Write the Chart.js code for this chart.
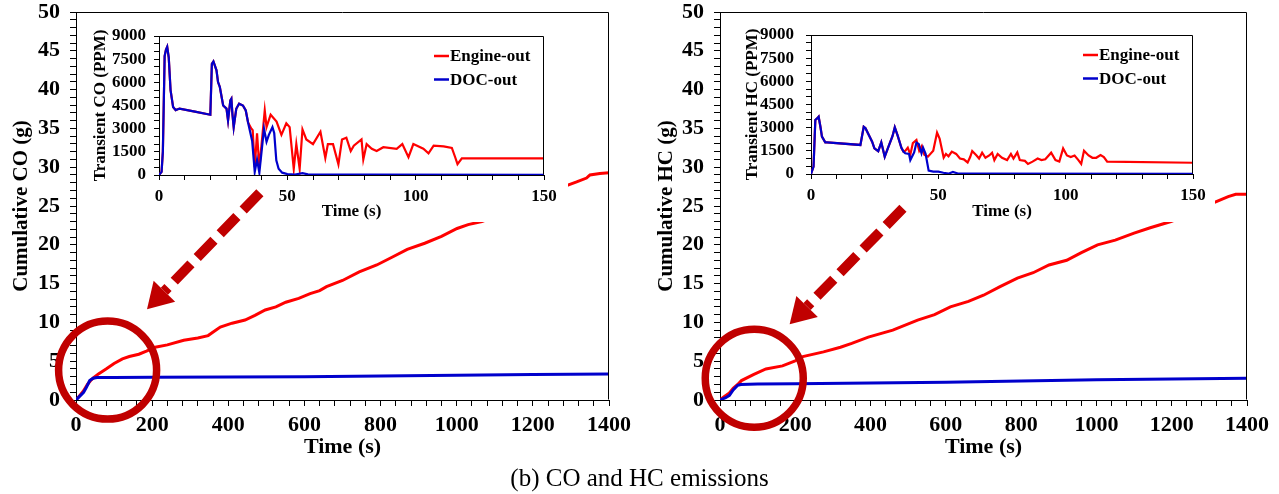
<!DOCTYPE html>
<html>
<head>
<meta charset="utf-8">
<script src="https://cdn.jsdelivr.net/npm/chart.js@4.4.0/dist/chart.umd.min.js"></script>
<style>
    body { margin: 0; background: #fff; width: 1279px; height: 494px; position: relative; overflow: hidden; }
    canvas { position: absolute; background: #fff; }
    #coMain { left: 0; top: 0; }
    #hcMain { left: 640px; top: 0; }
    #coInset { left: 86px; top: 24px; }
    #hcInset { left: 730px; top: 24px; }
    #marks { left: 0; top: 0; background: transparent; pointer-events: none; }
    #caption {
        position: absolute; left: 0; width: 1279px; top: 463px;
        text-align: center; font: 25px 'Liberation Serif', serif; line-height: 29px; color: #000;
    }
</style>
</head>
<body>
<canvas id="coMain" width="640" height="470"></canvas>
<canvas id="hcMain" width="639" height="470"></canvas>
<canvas id="coInset" width="482" height="198"></canvas>
<canvas id="hcInset" width="485" height="198"></canvas>
<canvas id="marks" width="1279" height="494"></canvas>
<div id="caption">(b) CO and HC emissions</div>

<script>
// ============================================
// DATA
// ============================================

// cumulative CO (g) vs time (s)
const coCumEngineT = [0, 10, 20, 30, 40, 47, 60, 79, 100, 122, 140, 165, 185, 208, 240, 283, 320, 347, 379, 410, 444, 470, 497, 525, 551, 585, 615, 640, 658, 700, 744, 790, 830, 870, 916, 960, 1001, 1030, 1066, 1120, 1180, 1240, 1292, 1315, 1341, 1350, 1376, 1400];
const coCumEngine = [0, 0.6, 1.2, 2.0, 2.6, 2.9, 3.4, 4.0, 4.7, 5.3, 5.6, 5.9, 6.3, 6.8, 7.1, 7.7, 8.0, 8.3, 9.4, 9.9, 10.3, 10.9, 11.6, 12.0, 12.6, 13.1, 13.7, 14.1, 14.6, 15.4, 16.5, 17.4, 18.4, 19.4, 20.2, 21.1, 22.1, 22.6, 23.0, 24.0, 25.2, 26.5, 27.7, 28.1, 28.6, 29.0, 29.2, 29.3];
const coCumDocT = [0, 10, 20, 27, 36, 45, 55, 100, 200, 400, 600, 800, 1000, 1200, 1400];
const coCumDoc = [0, 0.5, 1.0, 1.6, 2.5, 2.8, 2.9, 2.9, 2.92, 2.95, 3.0, 3.1, 3.2, 3.3, 3.35];

// cumulative HC (g) vs time (s)
const hcCumEngineT = [0, 10, 25, 35, 47, 57, 90, 122, 166, 198, 220, 275, 320, 350, 394, 459, 525, 570, 612, 660, 700, 744, 790, 832, 874, 921, 960, 1003, 1050, 1100, 1143, 1198, 1250, 1290, 1320, 1350, 1370, 1400];
const hcCumEngine = [0, 0.4, 0.9, 1.5, 2.0, 2.5, 3.3, 4.0, 4.4, 5.0, 5.6, 6.2, 6.8, 7.3, 8.1, 9.0, 10.3, 11.0, 12.0, 12.7, 13.5, 14.6, 15.7, 16.4, 17.4, 18.0, 19.0, 20.0, 20.6, 21.5, 22.2, 23.0, 24.0, 25.0, 25.6, 26.2, 26.5, 26.5];
const hcCumDocT = [0, 15, 25, 35, 47, 55, 100, 200, 400, 600, 800, 1000, 1200, 1400];
const hcCumDoc = [0, 0.3, 0.6, 1.3, 1.9, 2.0, 2.05, 2.1, 2.2, 2.3, 2.45, 2.6, 2.7, 2.8];

// transient CO (ppm), first 150 s: shared start, then engine-out / DOC-out tails
const coTrShareT = [0, 1, 1.5, 2.2, 2.7, 3.2, 3.8, 4.5, 5.5, 6.5, 8, 14, 20, 20.6, 21.2, 22.4, 23, 23.7, 25, 26.3, 26.9, 27.8, 28.2, 28.6, 29.1, 30.1, 31.2, 32.7, 33.8, 34.7];
const coTrShare = [0, 200, 1500, 7700, 8100, 8300, 7600, 5500, 4400, 4200, 4300, 4100, 3900, 7200, 7350, 6780, 6020, 5700, 4500, 4300, 3530, 4830, 4940, 3960, 3100, 4290, 4620, 4500, 4180, 3400];
const coTrEngineT = [36, 36.5, 37.3, 38.2, 39.1, 41.2, 41.9, 43.5, 45.8, 47.7, 49.6, 50.9, 52.5, 53.5, 54.8, 55.9, 57.4, 60, 62.9, 64.8, 65.8, 67.8, 69.9, 71.3, 73, 74.7, 75.9, 78.9, 79.6, 80.9, 82.9, 84.8, 87.4, 92.6, 94.8, 97.2, 99.1, 103, 105, 107, 110.9, 114.1, 115.4, 116.3, 118, 150];
const coTrEngine = [3000, 2900, 500, 2700, 450, 4180, 3100, 3900, 3460, 2600, 3350, 3100, 400, 2000, 400, 2950, 2300, 2000, 2800, 1100, 2000, 2000, 700, 2300, 2420, 1550, 1900, 2300, 1000, 2000, 1700, 1550, 1800, 1700, 2000, 1150, 2000, 1700, 1400, 1900, 1850, 1750, 1150, 700, 1080, 1080];
const coTrDocT = [35.5, 36.3, 37.3, 38.2, 39.1, 40.9, 41.9, 42.8, 44.2, 44.9, 45.7, 46.6, 48, 50, 53, 55.9, 58, 80, 150];
const coTrDoc = [2800, 2200, 200, 1000, 150, 3000, 2150, 2600, 3100, 2700, 950, 400, 150, 60, 30, 120, 40, 20, 10];

// transient HC (ppm), first 150 s
const hcTrShareT = [0, 1, 1.7, 2.4, 3, 3.7, 4.3, 5.6, 6.3, 19.4, 20.7, 21.4, 22.7, 24, 24.9, 26.4, 27.6, 28.95, 30.5, 32, 32.9, 34, 35.5, 36.3];
const hcTrShare = [0, 475, 3500, 3600, 3710, 3060, 2420, 2050, 2050, 1880, 3060, 2960, 2520, 2090, 1660, 1480, 2050, 1120, 1800, 2450, 3020, 2500, 1700, 1450];
const hcTrEngineT = [37, 38, 39, 40, 41.4, 42.5, 43.5, 44.5, 45.9, 48, 49.5, 50.5, 52.1, 53, 54, 55.3, 57, 58.5, 60, 61.5, 62.5, 63.3, 65, 66, 67.2, 68.5, 70, 71.1, 72, 73.3, 75, 77, 78.5, 79.5, 81, 82, 84, 85.2, 87, 89, 90.5, 92, 94.3, 96, 97.5, 99, 100.5, 102, 103.5, 105, 106.1, 107.2, 109, 110.5, 112, 113.7, 115, 116.3, 150];
const hcTrEngine = [1500, 1700, 1250, 2000, 2200, 1500, 1800, 1250, 1120, 1500, 2680, 2300, 1060, 1300, 1150, 1450, 1300, 1000, 950, 750, 1100, 1490, 1200, 1000, 1380, 1050, 1200, 1380, 900, 1300, 1050, 900, 1300, 1000, 1400, 900, 850, 650, 800, 1000, 900, 950, 1380, 900, 800, 1660, 1200, 1100, 1200, 900, 650, 1510, 1200, 1050, 1050, 1230, 1100, 800, 730];
const hcTrDocT = [37, 38.5, 39, 40.5, 41.4, 42.3, 43.4, 44, 45, 46.2, 48, 50, 52, 54, 55.7, 58, 150];
const hcTrDoc = [1340, 1300, 900, 1400, 2030, 1950, 1340, 1700, 1300, 215, 150, 150, 80, 20, 130, 20, 10];

// tick labels
const mainXLabels = [0, 200, 400, 600, 800, 1000, 1200, 1400];
const mainYLabels = [0, 5, 10, 15, 20, 25, 30, 35, 40, 45, 50];
const insetXLabels = [0, 50, 100, 150];
const insetYLabels = [0, 1500, 3000, 4500, 6000, 7500, 9000];
const seriesNames = ['Engine-out', 'DOC-out'];

// ============================================
// STYLE
// ============================================

const RED = '#ff0000';
const BLUE = '#0000cc';
const MARK = '#c00000';
const FONT = "'Liberation Serif', 'Times New Roman', serif";

function pts(ts, vs) {
    return ts.map((t, i) => ({ x: t, y: vs[i] }));
}

function font(size, lineHeight) {
    return { family: FONT, weight: 'bold', size: size, lineHeight: lineHeight };
}

// top and right sides of the plot box
const boxPlugin = {
    id: 'box',
    afterDraw(chart) {
        const { ctx, chartArea: a } = chart;
        const l = Math.round(a.left) + 0.5, r = Math.round(a.right) - 0.5;
        const t = Math.round(a.top) + 0.5, b = Math.round(a.bottom) - 0.5;
        ctx.save();
        ctx.strokeStyle = '#000';
        ctx.lineWidth = 1;
        ctx.beginPath();
        ctx.moveTo(l, t);
        ctx.lineTo(r, t);
        ctx.lineTo(r, b);
        ctx.stroke();
        ctx.restore();
    }
};

// small legend inside the inset plot
const legendPlugin = {
    id: 'insetLegend',
    afterDraw(chart) {
        const { ctx, chartArea: a } = chart;
        const x = a.right - 110;
        ctx.save();
        ctx.font = 'bold 17px ' + FONT;
        ctx.textBaseline = 'middle';
        ctx.fillStyle = '#000';
        chart.data.datasets.forEach((ds, i) => {
            const y = a.top + 20 + i * 23.5;
            ctx.strokeStyle = ds.borderColor;
            ctx.lineWidth = 2.5;
            ctx.beginPath();
            ctx.moveTo(x, y);
            ctx.lineTo(x + 15, y);
            ctx.stroke();
            ctx.fillText(ds.label, x + 16, y + 1);
        });
        ctx.restore();
    }
};

function axis(cfg) {
    return {
        type: 'linear',
        min: 0,
        max: cfg.max,
        afterFit(scale) {
            // fixed box sizes, and no extra room for overhanging labels
            if (scale.isHorizontal()) {
                scale.height = cfg.size;
                scale.paddingLeft = 0;
                scale.paddingRight = 0;
            } else {
                scale.width = cfg.size;
                scale.paddingTop = 0;
                scale.paddingBottom = 0;
            }
        },
        ticks: {
            stepSize: cfg.step,
            maxTicksLimit: 200,
            autoSkip: false,
            maxRotation: 0,
            padding: cfg.pad,
            color: '#000',
            font: font(cfg.fontSize, 1),
            callback: v => (cfg.labels.includes(v) ? v : '')
        },
        grid: {
            drawOnChartArea: false,
            tickLength: cfg.tickLen,
            color: '#000'
        },
        border: { color: '#000', width: 1 },
        title: {
            display: true,
            text: cfg.title,
            color: '#000',
            font: font(cfg.titleSize, 1.2),
            padding: cfg.titlePad
        }
    };
}

// ============================================
// CHARTS
// ============================================

function datasets(engine, doc, width) {
    return [
        { label: seriesNames[0], data: engine, borderColor: RED, borderWidth: width, pointRadius: 0, tension: 0, order: 2 },
        { label: seriesNames[1], data: doc, borderColor: BLUE, borderWidth: width, pointRadius: 0, tension: 0, order: 1 }
    ];
}

function createMainChart(id, engine, doc, yTitle, opt) {
    return new Chart(document.getElementById(id), {
        type: 'line',
        data: { datasets: datasets(engine, doc, 3) },
        options: {
            responsive: false,
            animation: false,
            devicePixelRatio: 1,
            layout: { padding: { top: 12, right: opt.right, left: 0, bottom: 0 } },
            plugins: { legend: { display: false }, tooltip: { enabled: false } },
            scales: {
                x: axis({
                    max: 1400, step: 40, labels: mainXLabels, size: 70, pad: 8, tickLen: 6,
                    fontSize: 22, title: 'Time (s)', titleSize: 22, titlePad: { top: 0, bottom: 9 }
                }),
                y: axis({
                    max: 50, step: 1, labels: mainYLabels, size: opt.yWidth, pad: 10, tickLen: 6,
                    fontSize: 22, title: yTitle, titleSize: 21, titlePad: { top: opt.titleGap, bottom: 0 }
                })
            }
        },
        plugins: [boxPlugin]
    });
}

function createInsetChart(id, engine, doc, yTitle, opt) {
    return new Chart(document.getElementById(id), {
        type: 'line',
        data: { datasets: datasets(engine, doc, 2.2) },
        options: {
            responsive: false,
            animation: false,
            devicePixelRatio: 1,
            layout: { padding: { top: opt.top, right: opt.right, left: 0, bottom: 0 } },
            plugins: { legend: { display: false }, tooltip: { enabled: false } },
            scales: {
                x: axis({
                    max: 150, step: 10, labels: insetXLabels, size: 198 - opt.bottom, pad: 8, tickLen: 5,
                    fontSize: 17, title: 'Time (s)', titleSize: 17, titlePad: { top: 0, bottom: 0 }
                }),
                y: axis({
                    max: 9000, step: 500, labels: insetYLabels, size: opt.yWidth, pad: opt.yPad, tickLen: 5,
                    fontSize: 17, title: yTitle, titleSize: 17, titlePad: { top: opt.titleGap, bottom: 0 }
                })
            }
        },
        plugins: [boxPlugin, legendPlugin]
    });
}

// red circle and dashed arrow, placed through the main chart's scales
function drawMarks(chart, dx, circle, arrow) {
    const ctx = document.getElementById('marks').getContext('2d');
    const sx = chart.scales.x;
    const sy = chart.scales.y;

    ctx.save();
    ctx.strokeStyle = MARK;
    ctx.fillStyle = MARK;

    ctx.lineWidth = 7.5;
    ctx.beginPath();
    ctx.arc(dx + sx.getPixelForValue(circle[0]), sy.getPixelForValue(circle[1]), 49, 0, Math.PI * 2);
    ctx.stroke();

    const x0 = dx + sx.getPixelForValue(arrow[0]);
    const y0 = sy.getPixelForValue(arrow[1]);
    const x1 = dx + sx.getPixelForValue(arrow[2]);
    const y1 = sy.getPixelForValue(arrow[3]);
    const ang = Math.atan2(y1 - y0, x1 - x0);
    const cos = Math.cos(ang), sin = Math.sin(ang);
    const head = 25, half = 15;
    const bx = x1 - head * cos, by = y1 - head * sin;

    ctx.lineWidth = 10;
    ctx.setLineDash([24, 9]);
    ctx.beginPath();
    ctx.moveTo(x0, y0);
    ctx.lineTo(bx, by);
    ctx.stroke();
    ctx.setLineDash([]);

    ctx.beginPath();
    ctx.moveTo(x1, y1);
    ctx.lineTo(bx + half * sin, by - half * cos);
    ctx.lineTo(bx - half * sin, by + half * cos);
    ctx.closePath();
    ctx.fill();
    ctx.restore();
}

const coMain = createMainChart('coMain', pts(coCumEngineT, coCumEngine), pts(coCumDocT, coCumDoc),
    'Cumulative CO (g)', { right: 31, yWidth: 76, titleGap: 9 });
const hcMain = createMainChart('hcMain', pts(hcCumEngineT, hcCumEngine), pts(hcCumDocT, hcCumDoc),
    'Cumulative HC (g)', { right: 32, yWidth: 80, titleGap: 14 });

createInsetChart('coInset',
    pts(coTrShareT.concat(coTrEngineT), coTrShare.concat(coTrEngine)),
    pts(coTrShareT.concat(coTrDocT), coTrShare.concat(coTrDoc)),
    'Transient CO (PPM)', { top: 12, bottom: 151, right: 24, yWidth: 73, yPad: 8, titleGap: 4 });
createInsetChart('hcInset',
    pts(hcTrShareT.concat(hcTrEngineT), hcTrShare.concat(hcTrEngine)),
    pts(hcTrShareT.concat(hcTrDocT), hcTrShare.concat(hcTrDoc)),
    'Transient HC (PPM)', { top: 11, bottom: 150, right: 22, yWidth: 81, yPad: 12, titleGap: 12 });

drawMarks(coMain, 0, [83, 3.85], [483, 26.7, 186.5, 11.7]);
drawMarks(hcMain, 640, [91, 2.8], [486, 24.7, 185, 9.75]);
</script>
</body>
</html>
